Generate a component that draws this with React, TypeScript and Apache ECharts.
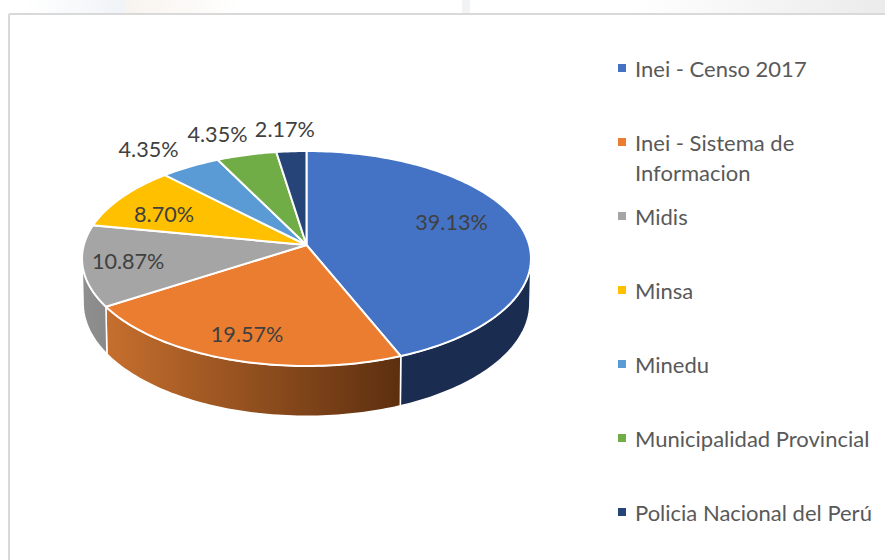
import React, { useEffect, useRef } from "react";
import * as echarts from "echarts";

const categories = [
  "Inei - Censo 2017",
  "Inei - Sistema de Informacion",
  "Midis",
  "Minsa",
  "Minedu",
  "Municipalidad Provincial",
  "Policia Nacional del Perú",
];
const values = [39.13, 19.57, 10.87, 8.7, 4.35, 4.35, 2.17];
const topColors = ["#4472C4", "#EB7D31", "#A5A5A5", "#FFC000", "#5B9BD5", "#70AD47", "#264478"];

// perspective model of the pie's top face
const CX = 306.5, CY = 245, A = 222.7, B = 105.8, K = 0.1255, DEPTH = 44, SHRINK = 0.995;
const WALL_FROM = Math.PI / 2 + Math.asin(K);
const WALL_TO = 2 * Math.PI - WALL_FROM;

const labelRadius = [0.66, 0.8, 0.8, 0.75, 1.25, 1.25, 1.27];
const labelNudge = [[3, -10], [0, 0], [0, 0], [-2, 5], [-16, 0], [-16, -1], [-3, 0]];
const legendTops = [53, 127, 201, 275, 349, 423, 497];

const wallFills: any[] = [
  "#1A2C50",
  new echarts.graphic.LinearGradient(0, 0, 1, 0, [
    { offset: 0, color: "#C66F2E" },
    { offset: 1, color: "#5D2F0F" },
  ]),
  new echarts.graphic.LinearGradient(0, 0, 1, 0, [
    { offset: 0, color: "#8F8F8F" },
    { offset: 1, color: "#8A8A8A" },
  ]),
];

const total = values.reduce((a, b) => a + b, 0);
const starts = values.map((_, i) => (values.slice(0, i).reduce((a, b) => a + b, 0) / total) * 2 * Math.PI);

function project(theta: number, r = 1): [number, number] {
  const u = Math.sin(theta) * r;
  const v = Math.cos(theta) * r;
  const d = 1 + K * v;
  return [CX + (A * u) / d, CY - (B * v) / d];
}
function projectBottom(theta: number): [number, number] {
  const [x, y] = project(theta);
  const d = 1 + K * Math.cos(theta);
  return [CX + (x - CX) * SHRINK, y + DEPTH / d];
}
function arc(a0: number, a1: number, fn: (t: number) => [number, number]) {
  const n = Math.max(2, Math.ceil(Math.abs(a1 - a0) / 0.02));
  const pts: [number, number][] = [];
  for (let i = 0; i <= n; i++) pts.push(fn(a0 + ((a1 - a0) * i) / n));
  return pts;
}

function makeRenderItem(i: number) {
  return (_params: any, api: any) => {
    const sweep = (api.value(0) / total) * 2 * Math.PI;
    const a0 = starts[i];
    const a1 = a0 + sweep;
    const children: any[] = [];
    const w0 = Math.max(a0, WALL_FROM);
    const w1 = Math.min(a1, WALL_TO);
    if (w1 > w0) {
      children.push({
        type: "polygon",
        shape: { points: [...arc(w0, w1, (t) => project(t)), ...arc(w1, w0, projectBottom)] },
        style: { fill: wallFills[i], stroke: "#FFFFFF", lineWidth: 1.5 },
      });
    }
    children.push({
      type: "polygon",
      shape: { points: [[CX, CY], ...arc(a0, a1, (t) => project(t))] },
      style: { fill: topColors[i], stroke: "#FFFFFF", lineWidth: 2 },
    });
    const [lx, ly] = project((a0 + a1) / 2, labelRadius[i]);
    children.push({
      type: "text",
      z2: 20,
      style: {
        x: lx + labelNudge[i][0],
        y: ly + labelNudge[i][1],
        text: api.value(0).toFixed(2) + "%",
        fill: "#404040",
        font: "21.6px Lato",
        align: "center",
        verticalAlign: "middle",
      },
    });
    return { type: "group", children };
  };
}

const ICON_ONE = "path://M0 0H8V8H0Z M12 8h0.01v0.01z";
const ICON_TWO = "path://M0 0H8V8H0Z M12 38h0.01v0.01z";

const fade = (a: string, b: string) =>
  new echarts.graphic.LinearGradient(0, 0, 1, 0, [
    { offset: 0, color: a },
    { offset: 1, color: b },
  ]);

export default function App() {
  const ref = useRef<HTMLDivElement>(null);
  useEffect(() => {
    document.body.style.margin = "0";
    const chart = echarts.init(ref.current!, undefined, { renderer: "svg" });
    chart.setOption({
      animation: false,
      backgroundColor: "#FFFFFF",
      legend: categories.map((name, i) => {
        const two = name.length > 25;
        return {
          data: [name],
          left: 618,
          top: legendTops[i],
          orient: "vertical",
          selectedMode: false,
          icon: two ? ICON_TWO : ICON_ONE,
          itemWidth: 12,
          itemHeight: two ? 38 : 8,
          padding: 0,
          formatter: (n: string) => (n.length > 25 ? "Inei - Sistema de\nInformacion" : n),
          textStyle: { color: "#595959", fontFamily: "Lato", fontSize: 22, lineHeight: 30 },
        };
      }),
      graphic: [
        { type: "rect", shape: { x: 25, y: 0, width: 100, height: 13 }, style: { fill: fade("#FFFFFF", "#F0F3F7") }, silent: true },
        { type: "rect", shape: { x: 125, y: 0, width: 115, height: 13 }, style: { fill: fade("#F8F3EE", "#FFFFFF") }, silent: true },
        { type: "rect", shape: { x: 462, y: 0, width: 8, height: 13 }, style: { fill: "#F1F3F5" }, silent: true },
        { type: "rect", shape: { x: 630, y: 0, width: 255, height: 13 }, style: { fill: fade("#FFFFFF", "#EBEBEB") }, silent: true },
        { type: "line", shape: { x1: 9, y1: 14, x2: 885, y2: 14 }, style: { stroke: "#D9D9D9", lineWidth: 2 }, silent: true },
        { type: "line", shape: { x1: 9, y1: 14, x2: 9, y2: 560 }, style: { stroke: "#D9D9D9", lineWidth: 2 }, silent: true },
      ],
      series: categories.map((name, i) => ({
        type: "custom",
        name,
        coordinateSystem: "none",
        data: [[values[i]]],
        itemStyle: { color: topColors[i] },
        renderItem: makeRenderItem(i),
        silent: true,
      })),
    });
    return () => chart.dispose();
  }, []);
  return <div ref={ref} style={{ width: 885, height: 560 }} />;
}
